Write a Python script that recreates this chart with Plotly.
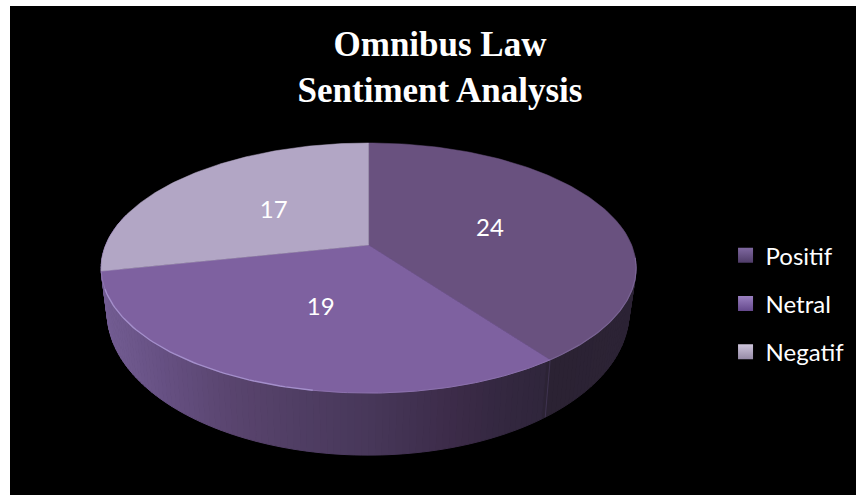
import numpy as np
import plotly.graph_objects as go

categories = ["Positif", "Netral", "Negatif"]
values = [24, 19, 17]
top_colors = ["#69517f", "#7e61a0", "#b2a6c5"]
legend_colors = ["#7f68a0", "#9a80c0", "#cfc6dc"]
legend_shades = ["#4f3c68", "#64488c", "#958aa6"]
label_angle_shift = [3, -2, -2]
label_radius = [0.489, 0.51, 0.476]

# projection of the 3D pie onto the page (pixel-like axis units)
CX, APEX_Y, A, B, P = 368.6, 245.0, 262.9, 120.8, 0.184
BASE_Y, BASE_A, BASE_B = 286.0, 256.5, 138.0


def project(deg, r=1.0, cx=CX, y0=APEX_Y, a=A, b=B):
    t = np.radians(np.asarray(deg, dtype=float))
    u, v = r * np.sin(t), -r * np.cos(t)
    d = 1 - P * v
    return cx + a * u / d, y0 + b * v / d


def base(deg):
    return project(deg, 1.0, CX - 0.5, BASE_Y, BASE_A, BASE_B)


total = sum(values)
edges = np.concatenate([[0], np.cumsum(values) / total * 360])

# wall shading is keyed on horizontal position
stops_x = [100, 165, 230, 300, 368, 450, 505, 545, 550, 640]
stops_rgb = [(0x74, 0x5e, 0x94), (0x66, 0x50, 0x82), (0x5a, 0x45, 0x6f), (0x50, 0x3e, 0x64),
             (0x48, 0x38, 0x5a), (0x3d, 0x2c, 0x4a), (0x34, 0x28, 0x40), (0x30, 0x26, 0x3c),
             (0x2b, 0x22, 0x33), (0x2d, 0x24, 0x36)]


def wall_color(x):
    return "rgb(%d,%d,%d)" % tuple(
        np.interp(x, stops_x, [c[i] for c in stops_rgb]) for i in range(3)
    )


fig = go.Figure()

# side wall
wall_edges = np.linspace(80, 285, 165)
for a0, a1 in zip(wall_edges[:-1], wall_edges[1:]):
    seg = np.linspace(a0, a1, 3)
    tx, ty = project(seg)
    bx, by = base(seg)
    xs = np.concatenate([tx, bx[::-1], tx[:1]])
    ys = np.concatenate([ty, by[::-1], ty[:1]])
    col = wall_color(tx.mean())
    fig.add_trace(go.Scatter(x=xs, y=ys, mode="lines", fill="toself", fillcolor=col,
                             line=dict(color=col, width=1), showlegend=False, hoverinfo="skip"))

# seam at Positif / Netral boundary on the wall
sx, sy = project(edges[1])
bx, by = base(edges[1])
fig.add_trace(go.Scatter(x=[float(sx), float(bx)], y=[float(sy), float(by)], mode="lines",
                         line=dict(color="#3f3350", width=1), showlegend=False, hoverinfo="skip"))

# top slices
for i, cat in enumerate(categories):
    ang = np.linspace(edges[i], edges[i + 1], 120)
    ax, ay = project(ang)
    xs = np.concatenate([[CX], ax, [CX]])
    ys = np.concatenate([[APEX_Y], ay, [APEX_Y]])
    fig.add_trace(go.Scatter(x=xs, y=ys, mode="lines", fill="toself", fillcolor=top_colors[i],
                             line=dict(color=top_colors[i], width=0.5), showlegend=False,
                             hoverinfo="skip"))

# rim highlights
rim_parts = [(edges[1] - 48, edges[1], "#7a6494", 1.2), (edges[1], 190, "#8c72ad", 1.0),
             (190, edges[2] - 8, "#a48fcb", 1.4), (edges[2] - 8, edges[2], "#8f77b0", 1.0)]
for a0, a1, col, w in rim_parts:
    ax, ay = project(np.linspace(a0, a1, 60))
    fig.add_trace(go.Scatter(x=ax, y=ay, mode="lines", line=dict(color=col, width=w),
                             showlegend=False, hoverinfo="skip"))

# value labels
mids = (edges[:-1] + edges[1:]) / 2 + np.array(label_angle_shift)
lx, ly = zip(*[project(m, r) for m, r in zip(mids, label_radius)])
fig.add_trace(go.Scatter(x=[float(v) for v in lx], y=[float(v) for v in ly], mode="text",
                         text=[str(v) for v in values], textposition="middle center",
                         textfont=dict(family="Lato", size=24, color="white"),
                         showlegend=False, hoverinfo="skip"))

# legend
for i, cat in enumerate(categories):
    fig.add_trace(go.Scatter(x=[None], y=[None], mode="markers", name=cat, legendgroup=cat,
                             marker=dict(symbol="square", size=15, color=legend_colors[i],
                                         gradient=dict(type="vertical", color=legend_shades[i]),
                                         line=dict(width=0))))

fig.update_layout(
    width=856, height=495,
    margin=dict(l=10, r=0, t=6, b=0),
    paper_bgcolor="white", plot_bgcolor="black",
    xaxis=dict(range=[10, 856], visible=False, fixedrange=True),
    yaxis=dict(range=[495, 6], visible=False, fixedrange=True),
    title=dict(text="Omnibus Law<br>Sentiment Analysis", x=440 / 856, xanchor="center",
               y=1 - 56 / 495, yanchor="top",
               font=dict(family="Liberation Serif", size=35, color="white", weight="bold")),
    legend=dict(x=724 / 856, y=1 - 230 / 495, xanchor="left", yanchor="top",
                bgcolor="rgba(0,0,0,0)", tracegroupgap=14, itemwidth=30,
                font=dict(family="Lato", size=24, color="white")),
)
fig.write_html("out.html", config=dict(displayModeBar=False),
               post_script="document.body.style.margin='0';")
